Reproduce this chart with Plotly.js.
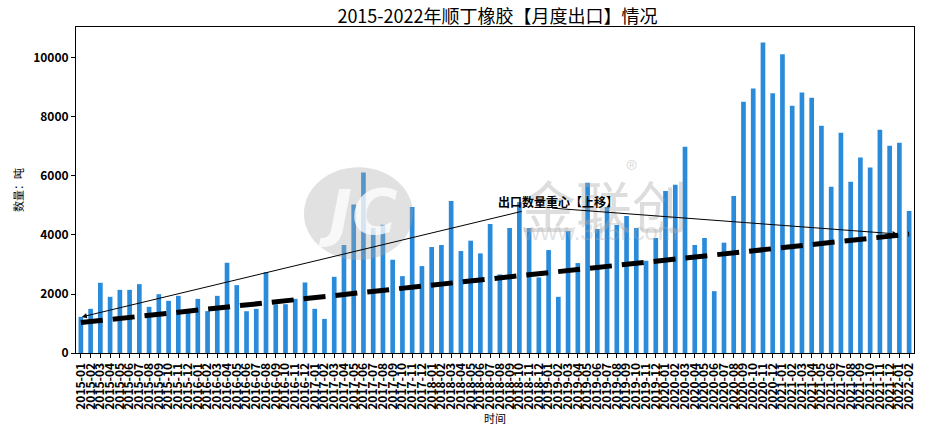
<!DOCTYPE html>
<html>
<head>
<meta charset="utf-8">
<script src="https://cdn.plot.ly/plotly-3.0.1.min.js"></script>
<style>html,body{margin:0;padding:0;background:#fff}#chart{width:944px;height:429px}</style>
</head>
<body>
<div id="chart"></div>
<script>
// ---- data ----
var startYear = 2015, startMonth = 1, monthCount = 86;
var months = [];
for (var i = 0; i < monthCount; i++) {
  var m = startMonth - 1 + i;
  var yy = startYear + Math.floor(m / 12);
  var mm = (m % 12) + 1;
  months.push(yy + '-' + (mm < 10 ? '0' : '') + mm);
}
var exportTons = [1224,1496,2380,1904,2141,2141,2334,1564,1994,1768,
  1937,1450,1835,1420,1937,3059,2300,1416,1496,2742,
  1650,1654,1835,2391,1496,1156,2583,3660,5031,6118,
  4237,4351,3161,2606,4951,2946,3592,3660,5155,3456,
  3807,3376,4373,2663,4237,5110,4237,2561,3490,1904,
  4135,3048,5767,4203,4951,4340,4645,4237,3127,3898,
  5495,5699,6991,3660,3898,2096,3739,5325,8520,8962,
  10526,8804,10129,8384,8826,8656,7704,5631,7466,5801,
  6629,6289,7568,7025,7127,4815];
var trendMonths = ['2015-01', '2022-02'];
var trendTons = [1030, 4030];
var yTicks = [0, 2000, 4000, 6000, 8000, 10000];

var idx = months.map(function(_, i){ return i; });
var trendIdx = trendMonths.map(function(m){ return months.indexOf(m); });

var cjk = '"Noto Sans CJK SC", "Noto Sans", sans-serif';

var traces = [
  {type:'bar', x: idx, y: exportTons, marker:{color:'#2b8bdb'}, hoverinfo:'skip'},
  {type:'scatter', mode:'lines', x: trendIdx, y: trendTons,
   line:{color:'#000', width:5, dash:'22px,10px'}, hoverinfo:'skip'}
];

var layout = {
  width:944, height:429,
  margin:{l:76, r:30, t:27, b:76},
  paper_bgcolor:'#fff', plot_bgcolor:'#fff',
  showlegend:false, bargap:0.52,
  title:{text:'2015-2022年顺丁橡胶【月度出口】情况', font:{family:cjk, size:18, color:'#000'},
    x:0.527, xanchor:'center', yref:'container', y:0.962, yanchor:'middle'},
  xaxis:{range:[-0.5, 85.5], tickmode:'array', tickvals:idx, ticktext:months, tickangle:-90,
    tickfont:{family:cjk, size:12, color:'#000', weight:'bold'},
    ticks:'outside', ticklen:4, tickcolor:'#000', showline:true, linecolor:'#000', linewidth:1, mirror:true,
    showgrid:false, zeroline:false,
    title:{text:'时间', font:{family:cjk, size:11, color:'#000'}, standoff:6}},
  yaxis:{range:[0, 11050], tickmode:'array', tickvals:yTicks, ticktext:yTicks.map(String),
    tickfont:{family:cjk, size:12, color:'#000', weight:'bold'},
    ticks:'outside', ticklen:4, tickcolor:'#000', showline:true, linecolor:'#000', linewidth:1, mirror:true,
    showgrid:false, zeroline:false,
    title:{text:'数量：吨', font:{family:cjk, size:11, color:'#000'}, standoff:7}},
  shapes:[
    {type:'circle', xref:'paper', yref:'paper', x0:0.272, x1:0.402, y0:0.285, y1:0.57,
     fillcolor:'rgba(170,170,170,0.35)', line:{width:0}, layer:'above'}
  ],
  annotations:[
    {xref:'paper', yref:'paper', x:0.337, y:0.43, text:'<i>JC</i>', showarrow:false,
     font:{family:'DejaVu Sans', size:62, color:'rgba(255,255,255,0.75)', weight:'bold'}},
    {xref:'paper', yref:'paper', x:0.63, y:0.46, text:'金联创', showarrow:false,
     font:{family:cjk, size:56, color:'rgba(170,170,170,0.4)'}},
    {xref:'paper', yref:'paper', x:0.672, y:0.565, text:'®', showarrow:false,
     font:{family:cjk, size:24, color:'rgba(170,170,170,0.4)'}},
    {xref:'paper', yref:'paper', x:0.625, y:0.325, text:'www.315i.com', showarrow:false,
     font:{family:'Liberation Sans', size:24, color:'rgba(170,170,170,0.35)'}},
    {x:49.0, y:5120, text:'出口数量重心【上移】', showarrow:false,
     font:{family:cjk, size:12, color:'#000', weight:'bold'}},
    {x:0.1, y:1224, ax:45.4, ay:4813, axref:'x', ayref:'y', text:'', showarrow:true,
     arrowhead:2, arrowsize:1, arrowwidth:1, arrowcolor:'#000'},
    {x:83.8, y:4034, ax:48.2, ay:4915, axref:'x', ayref:'y', text:'', showarrow:true,
     arrowhead:2, arrowsize:1, arrowwidth:1, arrowcolor:'#000'}
  ]
};

Plotly.newPlot('chart', traces, layout, {displayModeBar:false, staticPlot:true});
</script>
</body>
</html>
